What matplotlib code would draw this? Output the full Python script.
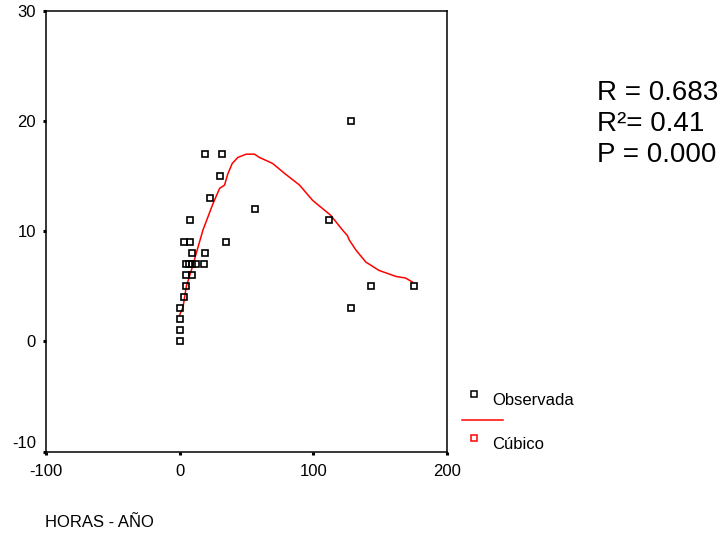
import numpy as np
import matplotlib.pyplot as plt
from matplotlib.lines import Line2D

plt.rcParams['font.family'] = ['Liberation Sans', 'DejaVu Sans']
plt.rcParams['axes.unicode_minus'] = False

# observed points (horas - año, y)
obs_x = [0, 0, 0, 0, 3, 4.5, 5, 9, 5, 7, 9, 12, 18, 9, 19, 3, 8, 35, 8, 23, 56, 30, 19, 32,
         128, 112, 143, 175, 128]
obs_y = [0, 1, 2, 3, 4, 5, 6, 6, 7, 7, 7, 7, 7, 8, 8, 9, 9, 9, 11, 13, 12, 15, 17, 17,
         20, 11, 5, 5, 3]

# fitted cubic curve as drawn (sorted by x)
fit_x = [0, 2.5, 5, 9.5, 12.4, 17.4, 24.9, 29.9, 32.5, 33.6, 36, 39.3, 43.5, 49.8, 56, 59.7,
         67, 69.6, 78, 89.6, 99.5, 113, 121.9, 125.5, 126.9, 131.8, 139.3, 149, 161.7, 169, 174]
fit_y = [2.4, 3.1, 5, 6.75, 8, 10.1, 12.5, 13.9, 14.1, 14.2, 15.2, 16.15, 16.7, 17.0, 17.0, 16.7,
         16.3, 16.15, 15.3, 14.2, 12.8, 11.45, 10.1, 9.6, 9.2, 8.3, 7.2, 6.45, 5.9, 5.75, 5.4]

stats = ["R = 0.683", "R\u00b2= 0.41", "P = 0.000"]
legend_labels = ["Observada", "Cúbico"]

fig = plt.figure(figsize=(7.28, 5.37), dpi=100)
W, H = 728, 537
ax = fig.add_axes([46 / W, 1 - 451.5 / H, (447 - 46) / W, (451.5 - 11) / H])

ax.plot(fit_x, fit_y, color='red', lw=1.1, zorder=2)
ax.plot(obs_x, obs_y, ls='none', marker='s', ms=4.6, mfc='none', mec='black', mew=1.2, zorder=3)

ax.set_xlim(-100, 200)
ax.set_ylim(-10, 30)
ax.set_xticks([-100, 0, 100, 200])
ax.set_yticks([-10, 0, 10, 20, 30])
ax.tick_params(direction='out', length=2.2, width=2.2, labelsize=12, color='black')
ax.tick_params(axis='x', pad=6.5)
ax.tick_params(axis='y', pad=5)
for s in ax.spines.values():
    s.set_linewidth(1.1)
fig.canvas.draw()
ax.get_yticklabels()[0].set_va('bottom')

# stats text
for i, t in enumerate(stats):
    fig.text(597 / W, 1 - (100 + 31 * i) / H, t, fontsize=20, va='baseline', ha='left')

# legend drawn by hand
fig.add_artist(Line2D([474 / W], [1 - 394 / H], marker='s', ms=4, mfc='none', mec='black',
                      mew=1.1, ls='none'))
fig.add_artist(Line2D([462 / W, 503 / W], [1 - 420 / H, 1 - 420 / H], color='red', lw=1.1))
fig.add_artist(Line2D([474 / W], [1 - 438 / H], marker='s', ms=4, mfc='none', mec='red',
                      mew=1.1, ls='none'))
fig.text(492 / W, 1 - 405 / H, legend_labels[0], fontsize=12, va='baseline')
fig.text(492 / W, 1 - 449 / H, legend_labels[1], fontsize=12, va='baseline')

fig.text(45 / W, 1 - 527 / H, "HORAS - AÑO", fontsize=12, va='baseline')

fig.savefig('out.png', dpi=100)
